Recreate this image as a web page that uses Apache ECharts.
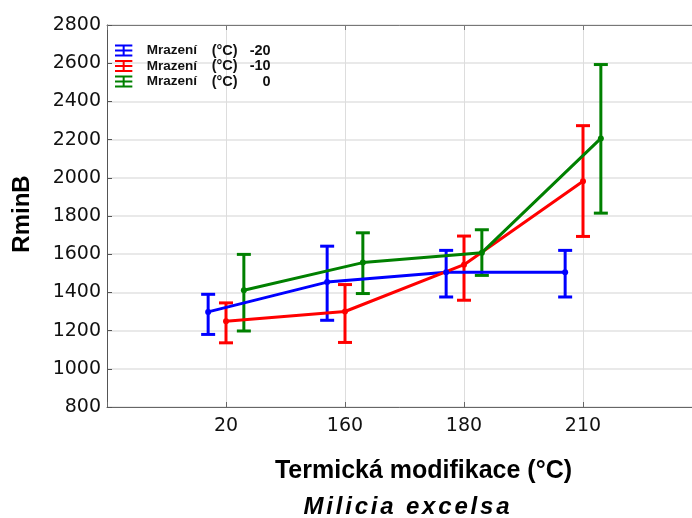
<!DOCTYPE html>
<html>
<head>
<meta charset="utf-8">
<script src="https://cdn.jsdelivr.net/npm/echarts@6/dist/echarts.min.js"></script>
<style>
html,body{margin:0;padding:0;background:#fff;}
#chart{width:692px;height:518px;}
</style>
</head>
<body>
<div id="chart"></div>
<script>
// ---- data ----
var categories = ['20', '160', '180', '210'];
var seriesNames = ['Mrazení  (°C) -20', 'Mrazení  (°C) -10', 'Mrazení  (°C)   0'];
var blueMean  = [1298, 1454, 1506, 1506];
var blueLow   = [1180, 1254, 1376, 1376];
var blueHigh  = [1390, 1642, 1620, 1620];
var redMean   = [1249, 1300, 1545, 1982];
var redLow    = [1136, 1138, 1359, 1693];
var redHigh   = [1345, 1441, 1695, 2273];
var greenMean = [1411, 1556, 1608, 2206];
var greenLow  = [1198, 1394, 1489, 1815];
var greenHigh = [1599, 1712, 1728, 2593];
var yTicks = [800, 1000, 1200, 1400, 1600, 1800, 2000, 2200, 2400, 2600, 2800];
var xTitle = 'Termická modifikace (°C)';
var yTitle = 'RminB';
var subTitle = 'Milicia excelsa';

// ---- build ----
var colors = ['#0000FF', '#FF0000', '#008000'];
var dodge = [-0.15, 0, 0.15];
var means = [blueMean, redMean, greenMean];
var lows = [blueLow, redLow, greenLow];
var highs = [blueHigh, redHigh, greenHigh];

var series = [];
for (var s = 0; s < 3; s++) {
  var lineData = [], errData = [];
  for (var i = 0; i < categories.length; i++) {
    var x = i + 1 + dodge[s];
    lineData.push([x, means[s][i]]);
    errData.push([x, lows[s][i], highs[s][i]]);
  }
  series.push({
    name: seriesNames[s],
    type: 'custom',
    data: errData,
    encode: { x: 0, y: [1, 2] },
    z: 3,
    clip: false,
    renderItem: (function (col) {
      return function (params, api) {
        var xv = api.value(0);
        var lo = api.coord([xv, api.value(1)]);
        var hi = api.coord([xv, api.value(2)]);
        var hw = 7;
        var st = { stroke: col, lineWidth: 3, fill: null };
        return {
          type: 'group',
          children: [
            { type: 'line', shape: { x1: hi[0], y1: hi[1], x2: lo[0], y2: lo[1] }, style: st },
            { type: 'line', shape: { x1: hi[0] - hw, y1: hi[1], x2: hi[0] + hw, y2: hi[1] }, style: st },
            { type: 'line', shape: { x1: lo[0] - hw, y1: lo[1], x2: lo[0] + hw, y2: lo[1] }, style: st }
          ]
        };
      };
    })(colors[s]),
    itemStyle: { color: colors[s] },
    silent: true
  });
  series.push({
    name: seriesNames[s],
    type: 'line',
    data: lineData,
    symbol: 'circle',
    symbolSize: 6,
    lineStyle: { color: colors[s], width: 3 },
    itemStyle: { color: colors[s] },
    z: 4,
    silent: true
  });
}

var icon = 'path://M0,0H26V3H14.5V7.5H26V10.5H14.5V15H26V18H0V15H11.5V10.5H0V7.5H11.5V3H0Z';

// spaced-out subtitle via rich text
var subRich = subTitle.split('').map(function (ch) { return '{c|' + (ch === ' ' ? '\u00a0' : ch) + '}'; }).join('');

var legendFont = { fontFamily: 'Liberation Sans', fontWeight: 'bold', color: '#111', lineHeight: 15 };
function rs(extra) { var o = {}; for (var k in legendFont) o[k] = legendFont[k]; for (var k2 in extra) o[k2] = extra[k2]; return o; }

var chart = echarts.init(document.getElementById('chart'), null, { renderer: 'canvas' });
chart.setOption({
  animation: false,
  backgroundColor: '#ffffff',
  grid: { left: 107, top: 25, width: 595, height: 382, containLabel: false, outerBoundsMode: 'none' },
  legend: {
    orient: 'vertical',
    left: 115,
    top: 43,
    itemWidth: 26,
    itemHeight: 12,
    itemGap: 0.5,
    padding: 0,
    data: seriesNames.map(function (n) { return { name: n, icon: icon }; }),
    formatter: function (name) {
      var p = name.split(/\s+/);
      return '{s|\u00a0}{a|' + p[0] + '}{b|' + p[1] + '}{c|' + p[2] + '}';
    },
    textStyle: {
      fontFamily: 'Liberation Sans', fontWeight: 'bold', fontSize: 13, color: '#111', lineHeight: 15,
      rich: {
        s: rs({ fontSize: 13, width: 5 }),
        a: rs({ fontSize: 13.5, width: 65 }),
        b: rs({ fontSize: 14.5, width: 34 }),
        c: rs({ fontSize: 14.5, width: 25, align: 'right' })
      }
    },
    selectedMode: false
  },
  xAxis: [{
    type: 'value',
    min: 0, max: 5, interval: 1,
    position: 'bottom',
    axisLine: { show: true, lineStyle: { color: '#666', width: 1 } },
    axisTick: { show: true, inside: true, length: 5, lineStyle: { color: '#666' } },
    axisLabel: {
      fontFamily: 'DejaVu Sans', fontSize: 19, color: '#111', margin: 10,
      formatter: function (v) { return categories[v - 1] || ''; }
    },
    splitLine: { show: true, lineStyle: { color: '#dddddd', width: 1 } }
  }, {
    type: 'value',
    min: 0, max: 5, interval: 1,
    position: 'top',
    axisLine: { show: true, onZero: false, lineStyle: { color: '#777', width: 1 } },
    axisTick: { show: true, inside: true, length: 5, lineStyle: { color: '#777' } },
    axisLabel: { show: false },
    splitLine: { show: false }
  }],
  yAxis: {
    type: 'value',
    min: 800, max: 2800, interval: 200,
    axisLine: { show: true, lineStyle: { color: '#555', width: 1 } },
    axisTick: { show: true, inside: true, length: 5, lineStyle: { color: '#555' } },
    axisLabel: {
      fontFamily: 'DejaVu Sans', fontSize: 19, color: '#111', margin: 6,
      formatter: function (v) { return yTicks.indexOf(v) >= 0 ? String(v) : ''; }
    },
    splitLine: { show: true, lineStyle: { color: '#e2e2e2', width: 1.5 } }
  },
  graphic: [
    {
      type: 'text', x: 423.5, y: 471.5,
      style: { text: xTitle, fontFamily: 'Liberation Sans', fontWeight: 'bold', fontSize: 25, fill: '#000', align: 'center', verticalAlign: 'middle' }
    },
    {
      type: 'text', x: 406.5, y: 507.5,
      style: {
        text: subRich, align: 'center', verticalAlign: 'middle',
        rich: { c: { fontFamily: 'Liberation Sans', fontWeight: 'bold', fontStyle: 'italic', fontSize: 24, fill: '#000', padding: [0, 1.4, 0, 1.4] } }
      }
    },
    {
      type: 'text', x: 22, y: 214, rotation: Math.PI / 2,
      style: { text: yTitle, fontFamily: 'Liberation Sans', fontWeight: 'bold', fontSize: 24, fill: '#000', align: 'center', verticalAlign: 'middle' }
    }
  ],
  series: series
});
</script>
</body>
</html>
